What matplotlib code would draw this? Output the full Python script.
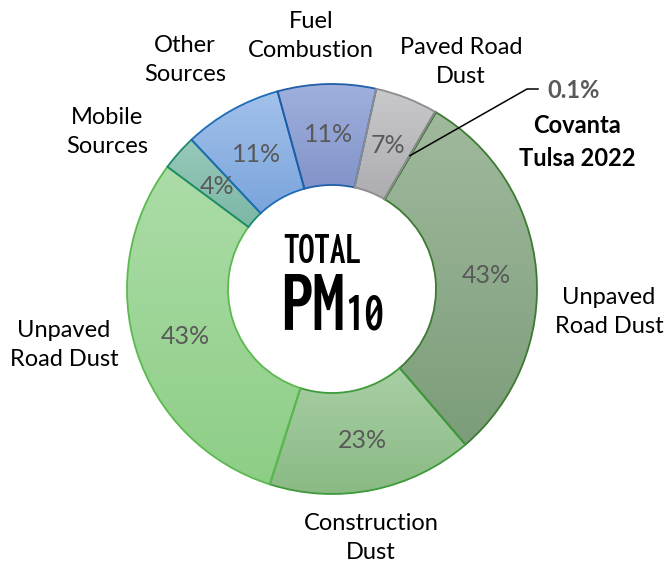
import os
import numpy as np
import matplotlib
matplotlib.use('Agg')
import matplotlib.pyplot as plt
from matplotlib import font_manager as fm
from matplotlib.colors import LinearSegmentedColormap

# data (clockwise from Covanta)
sources = ['Covanta\nTulsa 2022', 'Unpaved\nRoad Dust', 'Construction\nDust',
           'Unpaved\nRoad Dust', 'Mobile\nSources', 'Other\nSources',
           'Fuel\nCombustion', 'Paved Road\nDust']
shares = [0.1, 43, 23, 43, 4, 11, 11, 7]
share_labels = ['0.1%', '43%', '23%', '43%', '4%', '11%', '11%', '7%']

# styling
top_colors = ['#6f9a6a', '#a0b99d', '#a8cfa5', '#acdca8', '#98c9bb', '#a3c1ea', '#a0b0dd', '#c9c9cc']
bottom_colors = ['#6f9a6a', '#7c9d79', '#8aba84', '#8dce86', '#7cb7a6', '#7aa5dc', '#8193c9', '#adadb1']
edge_colors = ['#2e6b2a', '#3d7a32', '#3e9a3a', '#5cb94f', '#1d8a6e', '#1c6cb8', '#1f5ea8', '#8c8c8e']

W, H = 665, 567
def px(x, y):
    return x, H - y

# label centres in pixels (x, y from top)
label_pos = [None, (609, 312), (371, 538), (64, 345), (107, 132), (185, 60),
             (311, 36), (461, 62)]

plt.rcParams['font.family'] = ['Lato', 'DejaVu Sans']

fig = plt.figure(figsize=(W / 100, H / 100), dpi=100)
ax = fig.add_axes([0, 0, 1, 1])

cx, cy = px(332, 289)
R, ring = 205, 101
wedges, _ = ax.pie(shares, center=(cx, cy), radius=R, startangle=90 - 30.2,
                   counterclock=False,
                   wedgeprops=dict(width=ring, linewidth=1.3, facecolor='none'))
ax.set_xlim(0, W)
ax.set_ylim(0, H)
ax.set_aspect('equal')
ax.axis('off')

grad = np.linspace(0, 1, 256).reshape(-1, 1)
for w, c0, c1, ec in zip(wedges, top_colors, bottom_colors, edge_colors):
    w.set_edgecolor(ec)
    w.set_zorder(3)
    bb = w.get_path().get_extents()
    cmap = LinearSegmentedColormap.from_list('g', [c1, c0])
    im = ax.imshow(grad, cmap=cmap, origin='lower', aspect='auto', zorder=2,
                   extent=[bb.x0, bb.x1, bb.y0, bb.y1], interpolation='bilinear')
    im.set_clip_path(w)
ax.set_xlim(0, W)
ax.set_ylim(0, H)
ax.set_aspect('equal')

# percentage labels at ring middle
rmid = R - ring / 2
for w, lab in zip(wedges[1:], share_labels[1:]):
    th = np.deg2rad((w.theta1 + w.theta2) / 2)
    ax.text(cx + rmid * np.cos(th), cy + rmid * np.sin(th), lab,
            ha='center', va='center', fontsize=18, color='#595959', zorder=5)

# category labels
for lab, pos in zip(sources[1:], label_pos[1:]):
    ax.text(*px(*pos), lab, ha='center', va='center', fontsize=17,
            color='black', linespacing=1.5)

# Covanta callout
w0 = wedges[0]
th0 = np.deg2rad((w0.theta1 + w0.theta2) / 2)
sx, sy = cx + rmid * np.cos(th0), cy + rmid * np.sin(th0)
ex, ey = px(527, 89)
ax.plot([sx, ex, ex + 11], [sy, ey, ey], color='black', lw=1.1, zorder=6)
ax.text(*px(574, 91), share_labels[0], ha='center', va='center',
        fontsize=17, fontweight='bold', color='#595959')
ax.text(*px(577, 142), sources[0], ha='center', va='center', fontsize=17,
        fontweight='bold', color='black', linespacing=1.5)

# centre title in a condensed bold face
def pick_condensed():
    files = [f.fname for f in fm.fontManager.ttflist]
    for suffix in ['ExtraCondensedBold.ttf', 'ExtraCondensed-Bold.ttf',
                   'Condensed-Bold.ttf', 'CondensedBold.ttf',
                   'Narrow-Bold.ttf', 'SemiCondensed-Bold.ttf']:
        for f in files:
            b = os.path.basename(f)
            if b.endswith(suffix) and ('Semi' not in b or 'Semi' in suffix):
                return fm.FontProperties(fname=f)
    return fm.FontProperties(family='DejaVu Sans', weight='bold')

cfp = pick_condensed()
t1 = ax.text(*px(283, 263), 'TOTAL', ha='left', va='baseline',
             fontproperties=cfp, fontsize=33, color='black')
t2 = ax.text(*px(281, 330), 'PM', ha='left', va='baseline',
             fontproperties=cfp, fontsize=65, color='black')

r = fig.canvas.get_renderer()
for t, wmax in [(t1, 78), (t2, 102)]:
    bw = t.get_window_extent(r).width
    if bw > wmax:
        t.set_fontsize(t.get_fontsize() * wmax / bw)

# subscript right after PM (data units equal pixels here)
pm_right = t2.get_window_extent(r).x1
t3 = ax.text(pm_right + 1, H - 329, '10', ha='left', va='baseline',
             fontproperties=cfp, fontsize=40, color='black')
room = 404 - (pm_right + 1)
bw = t3.get_window_extent(r).width
if bw > room:
    t3.set_fontsize(t3.get_fontsize() * room / bw)

fig.savefig('out.png', dpi=100, facecolor='white')
